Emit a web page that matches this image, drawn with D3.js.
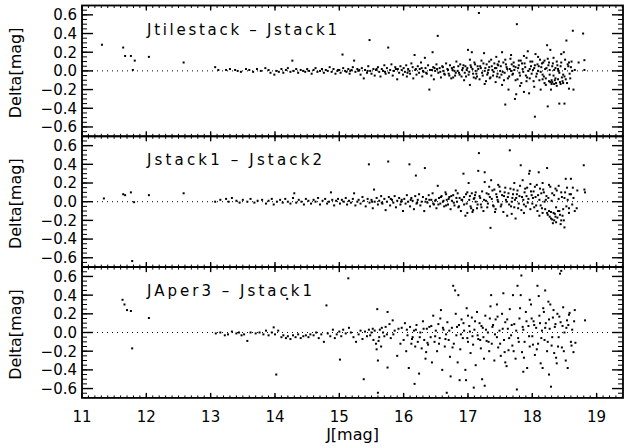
<!DOCTYPE html>
<html>
<head>
<meta charset="utf-8">
<script src="https://cdn.jsdelivr.net/npm/d3@7"></script>
<style>
  body { margin: 0; background: #fff; }
  svg text { font-family: "DejaVu Sans", sans-serif; fill: #000; }
</style>
</head>
<body>
<svg id="chart" width="627" height="448"></svg>
<script>
// panel titles
const titles = ["Jtilestack \u2013 Jstack1", "Jstack1 \u2013 Jstack2", "JAper3 \u2013 Jstack1"];
const titleWidths = [190, 175, 165];

const xTicks = [11, 12, 13, 14, 15, 16, 17, 18, 19];
const yTicks = [-0.6, -0.4, -0.2, 0.0, 0.2, 0.4, 0.6];

// [J mag, delta mag]
const jtileVsStack1 = [
  [11.31,0.28],[11.64,0.25],[11.67,0.16],[11.76,0.16],[11.82,0.11],[11.79,0.01],[12.04,0.15],[12.58,0.09],
  [13.07,0.04],[13.12,0.01],[13.24,0.01],[13.3,0.02],[13.38,0.01],[13.42,0.0],[13.47,-0.01],[13.55,0.02],[13.6,0.01],[13.66,-0.01],[13.72,0.02],[13.78,0.0],[13.85,0.03],[13.9,0.01],[13.93,-0.02],[13.99,-0.04],[14.02,0.0],[14.06,-0.01],
  [14.1,0.02],[14.13,-0.02],[14.17,0.01],[14.2,0.03],[14.24,-0.01],[14.27,0.11],[14.29,0.0],[14.33,0.02],[14.36,-0.02],[14.4,0.01],[14.44,0.0],[14.47,-0.01],[14.5,0.02],[14.53,0.0],[14.57,-0.03],[14.6,0.01],[14.63,0.03],[14.66,-0.01],[14.7,0.0],[14.73,0.02],[14.76,-0.02],[14.79,0.01],[14.82,0.0],[14.85,0.04],[14.88,-0.01],[14.91,0.02],[14.94,-0.03],[14.97,0.0],
  [15.0,0.01],[15.02,-0.02],[15.05,0.175],[15.06,0.03],[15.09,0.0],[15.11,-0.01],[15.14,0.02],[15.16,-0.03],[15.19,0.01],[15.21,0.04],[15.23,0.11],[15.25,-0.01],[15.28,0.02],[15.3,0.0],[15.33,-0.04],[15.35,0.03],[15.38,-0.08],[15.4,0.01],[15.43,-0.02],[15.45,0.05],[15.47,0.33],[15.48,0.0],[15.5,-0.03],[15.53,0.02],[15.55,-0.05],[15.57,0.01],[15.6,0.04],[15.62,-0.01],[15.64,-0.06],[15.66,0.02],[15.68,0.0],[15.7,0.06],[15.72,-0.03],[15.74,0.03],[15.76,0.25],[15.77,-0.02],[15.79,0.01],[15.81,0.07],[15.83,-0.05],[15.85,0.0],[15.87,0.04],[15.9,-0.09],[15.91,0.02],[15.93,-0.02],[15.95,0.05],[15.97,0.01],[15.99,-0.04],
  [16.0,0.03],[16.02,-0.01],[16.04,0.06],[16.05,-0.06],[16.07,0.02],[16.09,0.0],[16.1,-0.03],[16.12,0.08],[16.14,0.04],[16.15,-0.08],[16.17,0.17],[16.18,0.01],[16.2,-0.04],[16.22,0.05],[16.24,-0.02],[16.25,0.02],[16.27,0.09],[16.29,-0.06],[16.3,0.0],[16.33,0.14],[16.34,0.03],[16.36,-0.03],[16.38,0.06],[16.4,-0.2],[16.41,0.01],[16.43,-0.05],[16.45,0.2],[16.46,0.04],[16.47,-0.09],[16.49,0.0],[16.51,0.07],[16.53,0.375],[16.54,-0.02],[16.56,0.03],[16.58,-0.07],[16.6,0.05],[16.62,0.0],[16.64,-0.04],[16.66,0.08],[16.68,0.02],[16.7,-0.03],[16.72,0.06],[16.74,-0.08],[16.76,0.01],[16.78,0.04],[16.8,-0.05],[16.82,0.1],[16.84,0.0],[16.86,-0.02],[16.88,0.07],[16.9,-0.06],[16.92,0.03],[16.94,-0.1],[16.96,0.05],[16.98,0.01],[17.0,0.225],
  [17.01,-0.04],[17.03,-0.15],[17.04,0.06],[17.06,0.2],[17.07,0.02],[17.09,-0.07],[17.1,0.09],[17.12,0.0],[17.13,-0.03],[17.15,0.05],[17.17,0.62],[17.18,-0.09],[17.2,0.03],[17.21,0.11],[17.23,-0.05],[17.25,0.19],[17.26,0.0],[17.28,-0.11],[17.29,0.07],[17.31,-0.02],[17.33,0.04],[17.34,-0.08],[17.36,0.12],[17.38,0.01],[17.39,-0.05],[17.41,0.08],[17.43,-0.12],[17.44,0.03],[17.46,-0.03],[17.48,0.1],[17.49,-0.07],[17.51,0.05],[17.53,0.2],[17.54,-0.01],[17.56,-0.1],[17.58,-0.36],[17.59,0.07],[17.61,0.02],[17.63,-0.2],[17.64,-0.06],[17.66,0.13],[17.67,0.0],[17.69,-0.04],[17.71,0.09],[17.73,-0.3],[17.74,0.04],[17.75,-0.25],[17.76,0.5],[17.77,-0.09],[17.79,0.06],[17.8,-0.02],[17.82,0.11],[17.83,-0.13],[17.85,0.02],[17.87,-0.225],[17.88,0.08],[17.9,-0.05],[17.91,0.14],[17.93,0.21],[17.94,0.0],[17.95,-0.24],[17.96,-0.08],[17.98,0.05],[17.99,-0.03],
  [18.0,0.1],[18.02,-0.11],[18.03,0.03],[18.04,-0.49],[18.05,0.18],[18.06,-0.06],[18.08,0.07],[18.09,0.0],[18.11,-0.1],[18.12,0.12],[18.13,-0.2],[18.14,0.04],[18.16,-0.04],[18.17,0.09],[18.19,-0.13],[18.2,0.02],[18.21,-0.08],[18.23,0.275],[18.24,-0.38],[18.25,0.06],[18.26,-0.11],[18.27,0.01],[18.28,0.225],[18.29,-0.2],[18.3,-0.14],[18.31,-0.12],[18.32,0.08],[18.33,-0.05],[18.35,-0.1],[18.36,0.03],[18.37,-0.13],[18.38,0.1],[18.4,-0.09],[18.41,0.0],[18.42,-0.35],[18.43,-0.12],[18.44,0.05],[18.46,-0.07],[18.47,-0.11],[18.49,0.2],[18.5,-0.35],[18.51,0.02],[18.52,-0.09],[18.53,0.325],[18.55,0.07],[18.57,-0.19],[18.58,-0.03],[18.6,0.04],[18.61,0.1],[18.63,0.43],[18.64,-0.2],[18.66,0.01],[18.72,0.09],[18.79,0.4],[18.81,0.115],[18.81,0.01]
];
// the dense core of the same cloud
const jtileVsStack1Core = [
  [16.52,0.02],[16.57,-0.01],[16.61,0.04],[16.63,-0.03],[16.69,0.01],[16.71,-0.05],[16.75,0.03],[16.79,0.0],[16.81,-0.02],[16.85,0.05],[16.87,-0.04],[16.91,0.01],[16.93,0.06],[16.95,-0.02],[16.99,0.03],
  [17.02,-0.01],[17.05,0.04],[17.08,-0.03],[17.11,0.07],[17.14,-0.06],[17.16,0.02],[17.19,0.05],[17.22,-0.02],[17.24,0.08],[17.27,0.03],[17.3,-0.04],[17.32,0.01],[17.35,-0.07],[17.37,0.05],[17.4,-0.01],[17.42,0.03],[17.45,-0.06],[17.47,0.06],[17.5,0.0],[17.52,-0.04],[17.55,0.09],[17.57,-0.02],[17.6,0.04],[17.62,-0.08],[17.65,0.02],[17.68,0.07],[17.7,-0.03],[17.72,0.01],[17.74,-0.1],[17.78,0.03],[17.81,-0.05],[17.84,0.08],[17.86,-0.01],[17.89,0.04],[17.92,-0.07],[17.97,0.1],
  [18.01,0.01],[18.04,0.06],[18.07,-0.03],[18.1,0.05],[18.13,-0.01],[18.15,0.08],[18.18,-0.06],[18.22,0.03],[18.24,0.13],[18.27,-0.04],[18.31,0.05],[18.34,0.01],[18.36,-0.08],[18.39,0.06],[18.42,-0.02],[18.45,0.09],[18.48,-0.04],[18.51,0.12],[18.54,-0.13],[18.56,0.05],[18.59,-0.08],[18.62,0.0],
  [17.03,0.12],[17.44,0.15],[17.67,0.17],[17.87,0.16],[18.09,0.15],[18.33,0.14],[18.45,0.18],[17.26,-0.14],[17.53,-0.15],[17.81,-0.16],[18.03,-0.17],[18.21,-0.15],[18.38,-0.16],[18.44,-0.14],[18.48,-0.13],[18.34,-0.14],[18.28,-0.12],[18.3,-0.1],
  [16.28,0.03],[16.35,-0.02],[16.44,0.01],[16.48,0.03],[16.31,-0.01],[16.19,0.02],[16.06,-0.02],[15.88,0.02],[15.71,-0.01],[15.58,0.02],[15.44,0.0],[15.31,0.01],[15.17,0.0],[14.98,0.01],
  [16.77,-0.07],[16.97,-0.06],[17.12,-0.08],[17.33,0.1],[17.58,0.12],[17.79,0.11],[18.19,0.11],[18.57,0.09],[17.96,0.02],[17.71,0.05],[17.46,0.07],[18.26,0.09],[18.4,0.02],[18.16,-0.09],[17.91,-0.11],[18.5,-0.06]
];

const jstack1VsStack2 = [
  [11.34,0.035],[11.64,0.08],[11.67,0.07],[11.76,0.1],[11.81,-0.005],[11.78,-0.635],[12.04,0.07],[12.58,0.09],
  [13.07,0.0],[13.15,0.02],[13.24,0.03],[13.28,0.0],[13.33,0.04],[13.4,0.01],[13.45,-0.01],[13.5,0.02],[13.57,0.0],[13.62,0.03],[13.68,-0.01],[13.73,0.01],[13.8,0.02],[13.86,-0.02],[13.9,0.01],[13.95,0.03],[13.98,-0.03],[14.03,0.0],
  [14.08,0.02],[14.12,-0.01],[14.16,0.03],[14.2,0.0],[14.24,-0.02],[14.28,0.04],[14.3,0.09],[14.33,-0.01],[14.37,0.02],[14.41,0.0],[14.45,-0.03],[14.48,0.03],[14.52,0.01],[14.56,-0.02],[14.6,0.02],[14.63,0.0],[14.67,0.04],[14.7,-0.03],[14.74,0.01],[14.78,0.03],[14.81,-0.02],[14.84,0.0],[14.87,0.1],[14.89,0.02],[14.92,-0.04],[14.95,0.01],[14.98,0.03],
  [15.01,-0.02],[15.04,0.02],[15.07,0.0],[15.1,0.04],[15.12,-0.03],[15.15,0.01],[15.18,-0.01],[15.21,0.03],[15.23,0.09],[15.25,-0.04],[15.28,0.0],[15.3,0.02],[15.33,-0.02],[15.36,0.05],[15.38,0.01],[15.41,-0.05],[15.44,0.03],[15.46,0.4],[15.47,-0.01],[15.5,0.02],[15.52,-0.07],[15.54,0.13],[15.55,0.0],[15.58,0.04],[15.6,-0.03],[15.62,0.01],[15.65,0.06],[15.67,-0.02],[15.7,0.03],[15.72,-0.09],[15.74,0.0],[15.76,0.43],[15.77,0.05],[15.79,-0.04],[15.82,0.02],[15.84,-0.01],[15.86,0.06],[15.88,-0.06],[15.9,0.01],[15.93,0.04],[15.95,-0.03],[15.97,0.02],[15.99,-0.1],
  [16.01,0.03],[16.03,-0.02],[16.05,0.07],[16.07,0.0],[16.09,0.4],[16.1,-0.05],[16.12,0.04],[16.14,0.01],[16.16,-0.08],[16.18,0.06],[16.19,0.28],[16.2,-0.02],[16.22,0.02],[16.24,0.08],[16.26,-0.04],[16.28,0.0],[16.3,0.05],[16.32,-0.1],[16.33,0.36],[16.35,0.03],[16.37,-0.01],[16.39,0.07],[16.41,-0.05],[16.43,0.02],[16.45,0.09],[16.47,-0.03],[16.49,0.01],[16.51,-0.07],[16.53,0.17],[16.55,0.04],[16.57,-0.02],[16.59,0.06],[16.61,0.0],[16.63,-0.05],[16.65,0.1],[16.67,0.02],[16.69,-0.03],[16.71,0.05],[16.73,-0.08],[16.75,0.01],[16.77,0.07],[16.79,-0.04],[16.81,0.12],[16.83,0.0],[16.85,-0.06],[16.87,0.04],[16.89,-0.1],[16.91,0.02],[16.93,0.3],[16.94,-0.03],[16.96,-0.15],[16.97,0.08],[16.99,-0.12],
  [17.01,0.2],[17.02,0.02],[17.04,-0.05],[17.06,0.09],[17.08,-0.09],[17.1,0.04],[17.12,0.0],[17.14,-0.07],[17.16,0.33],[17.17,0.52],[17.18,0.06],[17.2,-0.03],[17.22,0.11],[17.24,-0.1],[17.26,0.21],[17.26,0.315],[17.28,0.01],[17.3,-0.06],[17.32,0.08],[17.35,-0.28],[17.36,0.23],[17.37,0.03],[17.39,-0.04],[17.41,0.13],[17.43,-0.08],[17.45,0.05],[17.47,0.0],[17.49,0.16],[17.51,-0.05],[17.53,0.07],[17.55,-0.11],[17.57,0.1],[17.59,0.02],[17.61,-0.15],[17.62,0.05],[17.64,-0.03],[17.65,0.55],[17.66,0.14],[17.68,0.0],[17.7,0.08],[17.72,-0.06],[17.74,-0.18],[17.75,0.04],[17.77,0.12],[17.79,-0.02],[17.8,0.06],[17.82,0.39],[17.83,-0.09],[17.85,0.23],[17.86,0.02],[17.88,0.1],[17.9,-0.05],[17.92,0.15],[17.94,0.03],[17.95,0.3],[17.96,0.33],[17.97,-0.08],[17.99,0.07],
  [18.0,-0.02],[18.02,0.11],[18.03,-0.06],[18.05,0.05],[18.07,0.18],[18.08,-0.1],[18.1,0.315],[18.11,0.02],[18.13,-0.04],[18.14,0.09],[18.16,-0.12],[18.17,0.13],[18.19,0.0],[18.2,-0.08],[18.22,0.06],[18.23,0.36],[18.24,-0.14],[18.25,0.04],[18.26,-0.1],[18.28,0.16],[18.29,-0.18],[18.3,0.01],[18.32,-0.23],[18.33,-0.12],[18.34,0.07],[18.36,-0.16],[18.37,-0.06],[18.38,0.12],[18.4,-0.1],[18.41,0.03],[18.43,-0.14],[18.45,-0.2],[18.46,0.05],[18.48,-0.08],[18.5,-0.275],[18.51,0.1],[18.52,0.245],[18.53,-0.05],[18.55,0.02],[18.57,-0.12],[18.58,0.08],[18.6,0.245],[18.62,-0.03],[18.64,0.04],[18.69,-0.07],[18.7,0.12],[18.8,0.39],[18.81,0.13],[18.82,0.1]
];
const jstack1VsStack2Core = [
  [16.5,0.02],[16.54,-0.03],[16.58,0.05],[16.62,0.01],[16.66,-0.04],[16.7,0.03],[16.74,0.06],[16.78,-0.01],[16.82,0.04],[16.86,-0.05],[16.9,0.02],[16.94,0.05],[16.98,-0.02],
  [17.03,0.06],[17.05,-0.07],[17.09,0.03],[17.11,0.07],[17.15,-0.03],[17.19,0.04],[17.21,-0.06],[17.25,0.02],[17.29,0.09],[17.31,-0.02],[17.34,0.05],[17.38,0.12],[17.4,-0.05],[17.44,0.08],[17.46,0.02],[17.5,0.11],[17.52,-0.03],[17.56,0.06],[17.58,0.15],[17.6,0.0],[17.63,0.09],[17.67,-0.05],[17.69,0.04],[17.71,0.13],[17.73,0.02],[17.76,0.08],[17.78,-0.07],[17.81,0.17],[17.84,0.05],[17.87,-0.03],[17.89,0.14],[17.91,0.06],[17.93,-0.01],[17.98,0.11],
  [18.01,0.04],[18.04,0.16],[18.06,-0.04],[18.09,0.07],[18.12,0.14],[18.15,-0.07],[18.18,0.1],[18.21,0.02],[18.23,-0.12],[18.27,-0.16],[18.29,-0.11],[18.31,-0.19],[18.34,-0.2],[18.35,-0.13],[18.37,-0.22],[18.39,-0.17],[18.42,-0.1],[18.44,-0.24],[18.47,-0.15],[18.49,-0.2],
  [18.31,0.09],[18.36,0.14],[18.41,0.17],[18.45,0.1],[18.5,0.04],[18.54,0.15],[18.57,-0.07],[18.6,0.08],[18.63,0.15],[18.66,-0.1],
  [17.12,0.1],[17.33,0.16],[17.47,0.18],[17.72,0.2],[17.97,0.19],[18.16,0.2],[18.26,0.18],[16.66,0.08],[16.84,0.09],[16.99,0.1],[17.07,-0.11],[17.42,-0.11],[17.68,-0.13],[17.87,-0.12],[18.11,-0.15],
  [16.4,0.02],[16.46,-0.02],[16.34,0.0],[16.21,-0.01],[16.11,0.02],[15.96,0.0],[15.8,0.03],[15.66,-0.01],[15.51,0.0]
];

const japer3VsStack1 = [
  [11.63,0.35],[11.66,0.3],[11.7,0.24],[11.76,0.23],[11.78,-0.17],[12.04,0.155],
  [13.08,-0.01],[13.15,0.0],[13.22,-0.03],[13.27,-0.02],[13.33,0.01],[13.4,-0.01],[13.44,0.0],[13.48,-0.03],[13.52,-0.02],[13.57,-0.09],[13.62,0.0],[13.7,-0.01],[13.76,0.0],[13.82,-0.02],[13.86,0.02],[13.9,-0.03],[13.95,0.0],[13.98,0.055],[14.0,-0.02],[14.02,-0.45],[14.05,0.02],[14.1,-0.05],[14.13,-0.03],[14.17,-0.06],[14.19,0.36],[14.2,-0.04],[14.24,-0.07],[14.28,-0.03],[14.32,-0.05],[14.36,-0.02],[14.4,-0.06],[14.44,-0.04],[14.48,-0.03],[14.52,-0.05],[14.55,-0.02],
  [14.6,-0.03],[14.64,0.0],[14.68,-0.06],[14.72,-0.02],[14.76,-0.1],[14.8,0.29],[14.82,-0.01],[14.86,-0.04],[14.9,0.03],[14.93,-0.06],[14.96,-0.02],[15.0,0.01],[15.01,-0.29],[15.03,-0.04],[15.06,0.03],[15.1,-0.01],[15.14,0.58],[15.15,0.05],[15.18,0.0],[15.22,-0.05],[15.26,-0.1],[15.3,-0.02],[15.33,0.02],[15.36,-0.07],[15.38,-0.5],[15.4,0.01],[15.43,-0.04],[15.46,0.03],[15.48,-0.03],[15.5,0.0],[15.53,-0.08],[15.55,0.02],[15.57,-0.12],[15.58,-0.18],[15.59,0.25],[15.6,-0.3],[15.6,-0.645],[15.62,-0.05],[15.63,0.03],[15.65,-0.15],[15.68,0.0],[15.72,0.06],[15.74,-0.02],[15.75,0.22],[15.75,-0.375],[15.78,0.09],[15.8,-0.06],[15.83,0.13],[15.86,0.02],[15.9,-0.25],[15.92,0.04],[15.95,-0.12],
  [16.0,-0.08],[16.02,0.1],[16.04,-0.2],[16.06,-0.03],[16.08,-0.38],[16.1,0.06],[16.12,-0.12],[16.14,-0.05],[16.16,0.02],[16.17,-0.55],[16.18,-0.15],[16.2,0.08],[16.22,-0.1],[16.24,-0.44],[16.26,0.0],[16.28,-0.17],[16.3,0.12],[16.32,-0.08],[16.34,-0.28],[16.36,0.04],[16.38,-0.13],[16.4,0.06],[16.42,-0.05],[16.44,-0.32],[16.46,0.18],[16.48,-0.1],[16.5,0.02],[16.52,-0.2],[16.54,0.09],[16.56,-0.06],[16.58,0.24],[16.6,-0.4],[16.62,0.03],[16.64,-0.15],[16.66,-0.02],[16.67,-0.645],[16.68,0.11],[16.7,-0.08],[16.72,-0.26],[16.73,-0.47],[16.75,0.05],[16.77,0.5],[16.78,-0.12],[16.8,0.45],[16.81,0.2],[16.82,-0.03],[16.84,-0.32],[16.85,0.4],[16.86,0.08],[16.87,-0.51],[16.88,-0.18],[16.9,0.14],[16.92,-0.06],[16.94,0.02],[16.96,-0.4],[16.97,-0.51],[16.98,0.26],
  [17.0,-0.1],[17.02,0.07],[17.04,-0.22],[17.06,0.16],[17.08,-0.13],[17.09,-0.59],[17.1,0.03],[17.12,-0.35],[17.14,0.22],[17.16,-0.07],[17.18,0.1],[17.2,-0.17],[17.22,-0.5],[17.23,0.05],[17.25,-0.28],[17.26,-0.57],[17.27,0.18],[17.29,-0.09],[17.31,0.0],[17.33,-0.2],[17.35,0.28],[17.36,0.4],[17.37,-0.12],[17.39,0.08],[17.41,-0.3],[17.43,0.14],[17.45,-0.05],[17.47,-0.16],[17.49,0.02],[17.51,-0.25],[17.53,0.2],[17.55,0.42],[17.56,-0.08],[17.58,0.11],[17.6,-0.36],[17.62,0.04],[17.63,-0.19],[17.65,0.25],[17.67,-0.03],[17.69,-0.14],[17.7,0.4],[17.72,0.09],[17.74,-0.28],[17.76,-0.61],[17.77,0.5],[17.78,-0.06],[17.8,0.15],[17.82,0.4],[17.83,0.61],[17.84,-0.21],[17.86,0.03],[17.88,-0.1],[17.9,0.22],[17.92,-0.38],[17.94,0.07],[17.96,-0.15],[17.98,0.3],
  [18.0,-0.04],[18.02,0.12],[18.04,-0.24],[18.06,0.05],[18.08,0.5],[18.09,-0.12],[18.1,0.39],[18.11,0.18],[18.13,-0.33],[18.15,0.02],[18.17,0.26],[18.19,-0.08],[18.21,0.1],[18.23,-0.2],[18.25,0.33],[18.26,-0.45],[18.27,0.04],[18.28,0.3],[18.29,-0.58],[18.3,-0.14],[18.32,0.16],[18.34,-0.22],[18.35,0.06],[18.37,-0.27],[18.39,0.2],[18.41,-0.05],[18.43,0.63],[18.44,0.11],[18.45,0.66],[18.46,-0.16],[18.48,0.27],[18.5,0.0],[18.52,-0.3],[18.54,0.13],[18.55,-0.38],[18.56,0.08],[18.58,0.21],[18.6,-0.1],[18.62,0.03],[18.64,-0.21],[18.66,0.24],[18.67,-0.11],[18.82,0.13]
];
const japer3VsStack1Core = [
  [15.52,0.04],[15.61,-0.09],[15.66,0.05],[15.7,-0.04],[15.84,-0.02],[15.97,0.05],[16.05,0.03],[16.13,-0.07],[16.19,0.03],[16.25,-0.05],[16.31,0.04],[16.37,-0.11],[16.43,0.07],[16.49,-0.04],[16.55,-0.12],[16.61,0.05],[16.65,-0.07],[16.71,0.02],[16.76,-0.16],[16.83,0.06],[16.89,-0.02],[16.93,0.1],[16.99,-0.06],
  [17.03,0.01],[17.07,-0.04],[17.11,0.12],[17.15,-0.03],[17.19,-0.08],[17.21,0.07],[17.24,-0.05],[17.28,0.03],[17.32,-0.1],[17.38,0.06],[17.42,-0.02],[17.46,0.17],[17.5,-0.12],[17.54,0.04],[17.57,-0.21],[17.61,0.14],[17.64,-0.06],[17.68,0.08],[17.71,-0.2],[17.75,0.02],[17.79,-0.1],[17.81,0.26],[17.85,0.06],[17.87,-0.27],[17.91,0.12],[17.95,-0.04],[17.99,0.15],
  [18.01,-0.13],[18.03,0.08],[18.07,-0.18],[18.12,0.1],[18.14,-0.06],[18.18,0.22],[18.2,0.05],[18.24,-0.1],[18.26,0.14],[18.31,-0.05],[18.33,0.24],[18.36,0.09],[18.4,-0.15],[18.42,0.17],[18.47,0.07],[18.49,-0.2],[18.53,0.05],[18.57,0.19],[18.61,-0.14],[18.65,0.12],
  [17.34,0.15],[17.58,-0.32],[17.86,-0.42],[18.16,-0.38],[18.38,-0.33],[17.0,0.18],[16.57,0.15],[16.35,-0.21],[17.45,0.3],[17.96,0.35],[18.2,0.45]
];

const panelData = [
  jtileVsStack1.concat(jtileVsStack1Core),
  jstack1VsStack2.concat(jstack1VsStack2Core),
  japer3VsStack1.concat(japer3VsStack1Core)
];

const left = 82, right = 623, top0 = 5.5, panelH = 130.8;

let svg = d3.select("#chart");

const x = d3.scaleLinear()
    .domain([11, 19.41])
    .range([left, right]);

const xMinor = d3.range(111, 195).map(d => d / 10);   // 0.1 mag minor ticks
const yMinor = d3.range(-13, 14).map(d => d * 0.05);

panelData.forEach(function (data, i) {
  const top = top0 + i * panelH, bottom = top + panelH;

  const y = d3.scaleLinear()
      .domain([-0.7, 0.7])
      .range([bottom, top]);

  let g = svg.append("g");

  // zero line, dotted
  g.append("line")
    .attr("x1", left).attr("x2", right)
    .attr("y1", y(0)).attr("y2", y(0))
    .attr("stroke", "#000")
    .attr("stroke-width", 1)
    .attr("stroke-dasharray", "1,4");

  // the stars
  g.selectAll("rect.pt")
    .data(data)
    .join("rect")
    .attr("class", "pt")
    .attr("x", d => x(d[0]) - 1)
    .attr("y", d => y(d[1]) - 1)
    .attr("width", 2)
    .attr("height", 2)
    .attr("fill", "#000");

  // y ticks, left and right, pointing inwards
  g.selectAll("line.ymin")
    .data(yMinor)
    .join("line")
    .attr("class", "ymin")
    .attr("x1", left).attr("x2", left + 5)
    .attr("y1", d => y(d)).attr("y2", d => y(d))
    .attr("stroke", "#000");
  g.selectAll("line.yminr")
    .data(yMinor)
    .join("line")
    .attr("class", "yminr")
    .attr("x1", right).attr("x2", right - 5)
    .attr("y1", d => y(d)).attr("y2", d => y(d))
    .attr("stroke", "#000");
  g.selectAll("line.ymaj")
    .data(yTicks)
    .join("line")
    .attr("class", "ymaj")
    .attr("x1", left).attr("x2", left + 11)
    .attr("y1", d => y(d)).attr("y2", d => y(d))
    .attr("stroke", "#000").attr("stroke-width", 1.4);
  g.selectAll("line.ymajr")
    .data(yTicks)
    .join("line")
    .attr("class", "ymajr")
    .attr("x1", right).attr("x2", right - 11)
    .attr("y1", d => y(d)).attr("y2", d => y(d))
    .attr("stroke", "#000").attr("stroke-width", 1.4);

  // x ticks, top and bottom of each panel
  [top, bottom].forEach(function (edge) {
    const dir = edge === top ? 1 : -1;
    g.selectAll(null)
      .data(xMinor)
      .join("line")
      .attr("x1", d => x(d)).attr("x2", d => x(d))
      .attr("y1", edge).attr("y2", edge + dir * 2.5)
      .attr("stroke", "#000");
    g.selectAll(null)
      .data(xTicks)
      .join("line")
      .attr("x1", d => x(d)).attr("x2", d => x(d))
      .attr("y1", edge).attr("y2", edge + dir * 5)
      .attr("stroke", "#000").attr("stroke-width", 1.4);
  });

  // frame
  g.append("rect")
    .attr("x", left).attr("y", top)
    .attr("width", right - left).attr("height", panelH)
    .attr("fill", "none")
    .attr("stroke", "#000")
    .attr("stroke-width", 1.8);

  // y tick labels
  g.selectAll("text.ylab")
    .data(yTicks)
    .join("text")
    .attr("class", "ylab")
    .attr("x", left - 5)
    .attr("y", d => y(d))
    .attr("dy", "0.36em")
    .attr("text-anchor", "end")
    .style("font-size", "15px")
    .text(d => (d < 0 ? "\u2212" : "") + Math.abs(d).toFixed(1));

  g.append("text")
    .attr("transform", "translate(21," + (top + panelH / 2 + 2) + ") rotate(-90)")
    .attr("text-anchor", "middle")
    .style("font-size", "16px")
    .text("Delta[mag]");

  g.append("text")
    .attr("x", 147)
    .attr("y", top + 29)
    .attr("textLength", titleWidths[i])
    .attr("lengthAdjust", "spacing")
    .style("font-size", "15px")
    .text(titles[i]);
});

// x tick labels and title under the last panel
const base = top0 + 3 * panelH;
svg.selectAll("text.xlab")
  .data(xTicks)
  .join("text")
  .attr("class", "xlab")
  .attr("x", d => x(d))
  .attr("y", base + 24)
  .attr("text-anchor", "middle")
  .style("font-size", "15px")
  .text(d => d);

svg.append("text")
  .attr("x", (left + right) / 2)
  .attr("y", base + 42)
  .attr("text-anchor", "middle")
  .style("font-size", "16px")
  .text("J[mag]");
</script>
</body>
</html>
